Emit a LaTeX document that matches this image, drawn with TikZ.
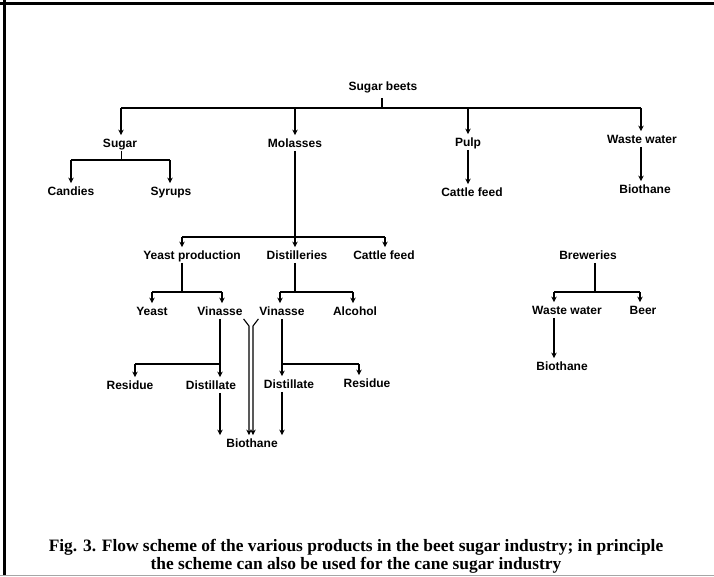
\documentclass[tikz,border=0pt]{standalone}
\usepackage{fontspec}
\setmainfont{Liberation Serif}
\setsansfont{Liberation Sans}
\usetikzlibrary{arrows.meta}
\begin{document}
\begin{tikzpicture}[x=1pt,y=-1pt,
  lbl/.style={font=\sffamily\bfseries\fontsize{12}{14}\selectfont, inner sep=0pt, outer xsep=0pt, outer ysep=3.6pt, text height=8.6pt, text depth=0pt},
  ln/.style={line width=1.1pt},
  arr/.style={line width=1.1pt, -{Stealth[length=5.5pt,width=5.5pt]}},
  frame/.style={line width=2.6pt}]
\useasboundingbox (0,0) rectangle (714,576);
% frame
\draw[frame] (0,3.3) -- (714,3.3);
\draw[frame] (4.7,0) -- (4.7,576);
\draw[black!35,line width=0.8pt] (0,575.5) -- (714,575.5);

% nodes
\node[lbl] (sb) at (383,86) {Sugar beets};
\node[lbl] (sugar) at (120,143) {Sugar};
\node[lbl] (mol) at (295,143) {Molasses};
\node[lbl] (pulp) at (468,142) {Pulp};
\node[lbl] (ww) at (642,139) {Waste water};
\node[lbl] (candies) at (71,191) {Candies};
\node[lbl] (syrups) at (171,191) {Syrups};
\node[lbl] (cf1) at (472,192) {Cattle feed};
\node[lbl] (bio1) at (645,189) {Biothane};
\node[lbl] (yp) at (192,255) {Yeast production};
\node[lbl] (dist) at (297,255) {Distilleries};
\node[lbl] (cf2) at (384,255) {Cattle feed};
\node[lbl] (yeast) at (152,311) {Yeast};
\node[lbl] (vin1) at (220,311) {Vinasse};
\node[lbl] (vin2) at (282,311) {Vinasse};
\node[lbl] (alc) at (355,311) {Alcohol};
\node[lbl] (res1) at (130,385) {Residue};
\node[lbl] (dis1) at (211,385) {Distillate};
\node[lbl] (dis2) at (289,384) {Distillate};
\node[lbl] (res2) at (367,383) {Residue};
\node[lbl] (bio2) at (252,443) {Biothane};
\node[lbl] (brew) at (588,255) {Breweries};
\node[lbl] (ww2) at (567,310) {Waste water};
\node[lbl] (beer) at (643,310) {Beer};
\node[lbl] (bio3) at (562,366) {Biothane};

\node[font=\bfseries\fontsize{17.4}{18}\selectfont, align=center, inner sep=0pt] (cap) at (356,556)
  {Fig. 3. Flow scheme of the various products in the beet sugar industry; in principle\\
   the scheme can also be used for the cane sugar industry};

% junction coordinates
\coordinate (j0) at (382,108);
\coordinate (hL) at (121,108);
\coordinate (hR) at (641,108);
\coordinate (js) at (121,160);
\coordinate (jsL) at (71,160);
\coordinate (jsR) at (170,160);
\coordinate (jm) at (295,237);
\coordinate (jmL) at (182,237);
\coordinate (jmR) at (385,237);
\coordinate (jy) at (182,292);
\coordinate (jyL) at (152,292);
\coordinate (jyR) at (222,292);
\coordinate (jd) at (295,292);
\coordinate (jdL) at (280,292);
\coordinate (jdR) at (353,292);
\coordinate (jv1) at (220,364);
\coordinate (jv1L) at (135,364);
\coordinate (jv2) at (282,364);
\coordinate (jv2R) at (359,364);
\coordinate (bL) at (249,326);
\coordinate (bR) at (253,326);
\coordinate (jb) at (595,292);
\coordinate (jbL) at (554,292);
\coordinate (jbR) at (640,292);

% top level
\draw[line width=1.9pt] ([yshift=-4pt]sb.south -| j0) -- (j0);
\draw[ln] (hL) -- (hR);
\draw[arr] (hL) -- (hL |- sugar.north);
\draw[arr] (mol.north |- hL) -- (mol.north);
\draw[arr] (pulp.north |- hL) -- (pulp.north);
\draw[arr] (hR) -- (hR |- ww.north);

% sugar
\draw[line width=0.7pt] (sugar.south -| js) -- (js);
\draw[ln] (jsL) -- (jsR);
\draw[arr] (jsL) -- (jsL |- candies.north);
\draw[arr] (jsR) -- (jsR |- syrups.north);

% pulp, waste water
\draw[arr] (pulp.south) -- (pulp.south |- cf1.north);
\draw[arr] (hR |- ww.south) -- (hR |- bio1.north);

% molasses
\draw[ln] (mol.south) -- (jm);
\draw[ln] (jmL) -- (jmR);
\draw[arr] (jmL) -- (jmL |- yp.north);
\draw[arr] (jm) -- (jm |- dist.north);
\draw[arr] (jmR) -- (jmR |- cf2.north);

% yeast production
\draw[ln] (jy |- yp.south) -- (jy);
\draw[ln] (jyL) -- (jyR);
\draw[arr] (jyL) -- (jyL |- yeast.north);
\draw[arr] (jyR) -- (jyR |- vin1.north);

% distilleries
\draw[ln] (jd |- dist.south) -- (jd);
\draw[ln] (jdL) -- (jdR);
\draw[arr] (jdL) -- (jdL |- vin2.north);
\draw[arr] (jdR) -- (jdR |- alc.north);

% vinasse 1
\draw[ln] (jv1 |- vin1.south) -- (jv1);
\draw[ln] (jv1L) -- (jv1);
\draw[arr] (jv1L) -- (jv1L |- res1.north);
\draw[arr] (jv1) -- (jv1 |- dis1.north);

% vinasse 2
\draw[ln] (jv2 |- vin2.south) -- (jv2);
\draw[ln] (jv2) -- (jv2R);
\draw[arr] (jv2) -- (jv2 |- dis2.north);
\draw[arr] (jv2R) -- (jv2R |- res2.north);

% distillates to biothane
\draw[arr] (jv1 |- dis1.south) -- (jv1 |- bio2.north);
\draw[arr] (jv2 |- dis2.south) -- (jv2 |- bio2.north);

% vinasse directly to biothane (double line)
\draw[arr] ([xshift=1pt]vin1.south east) -- (bL) -- (bL |- bio2.north);
\draw[arr] ([xshift=-1pt]vin2.south west) -- (bR) -- (bR |- bio2.north);

% breweries
\draw[ln] (jb |- brew.south) -- (jb);
\draw[ln] (jbL) -- (jbR);
\draw[arr] (jbL) -- (jbL |- ww2.north);
\draw[arr] (jbR) -- (jbR |- beer.north);
\draw[arr] (jbL |- ww2.south) -- (jbL |- bio3.north);
\end{tikzpicture}
\end{document}
